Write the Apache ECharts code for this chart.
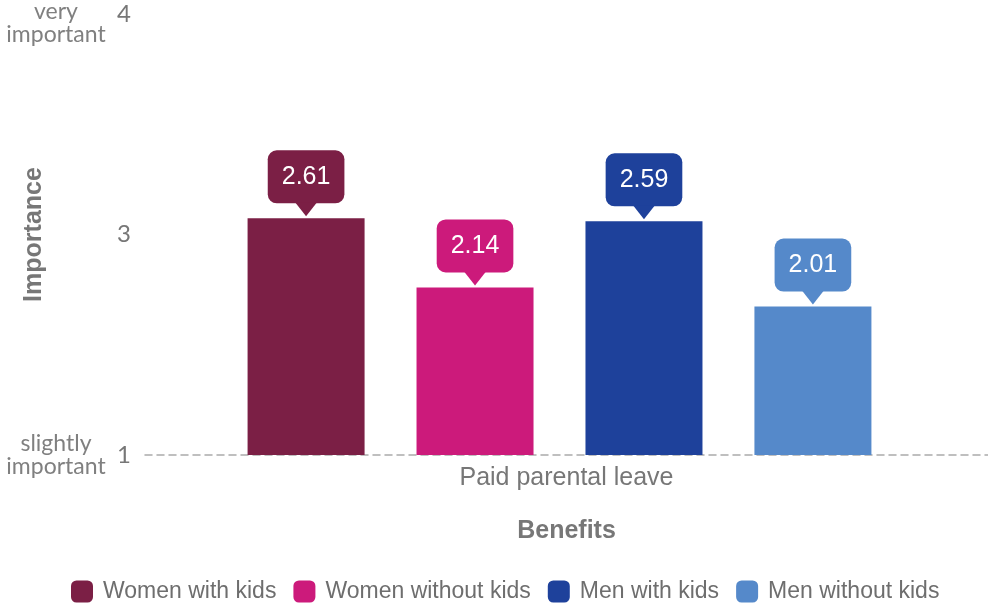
<!DOCTYPE html>
<html>
<head>
<meta charset="utf-8">
<script src="https://cdn.jsdelivr.net/npm/echarts@6/dist/echarts.min.js"></script>
<style>html,body{margin:0;padding:0;background:#fff;}#c{width:988px;height:605px;}</style>
</head>
<body>
<div id="c"></div>
<script>
const categories = ['Paid parental leave'];
const seriesNames = ['Women with kids', 'Women without kids', 'Men with kids', 'Men without kids'];
const womenWithKids = [2.61];
const womenWithoutKids = [2.14];
const menWithKids = [2.59];
const menWithoutKids = [2.01];
const seriesValues = [womenWithKids, womenWithoutKids, menWithKids, menWithoutKids];
const colors = ['#7B1F45', '#CC1A7B', '#1E419B', '#5589CA'];
const yTickValues = [1, 2.5, 4];
const yTickLabels = ['1', '3', '4'];
const yWordValues = [1, 4];
const yWordLabels = [['slightly', 'important'], ['very', 'important']];

const FONT = "'Liberation Sans', Arial, sans-serif";
const GRAY = '#777777';

const chart = echarts.init(document.getElementById('c'), null, {renderer: 'canvas'});

const barSeries = seriesNames.map((name, i) => ({
  name: name,
  type: 'bar',
  xAxisIndex: 1,
  yAxisIndex: 2,
  data: seriesValues[i],
  barWidth: 117,
  barGap: '44.4%',
  itemStyle: {color: colors[i]},
  emphasis: {disabled: true},
  z: 2,
  label: {
    show: true,
    position: 'top',
    distance: 15,
    formatter: p => p.value.toFixed(2),
    fontFamily: FONT, fontSize: 25, lineHeight: 25, color: '#ffffff',
    backgroundColor: colors[i], borderRadius: 9, padding: [14, 14, 14, 14]
  }
}));

const pointerSeries = seriesNames.map((name, i) => ({
  name: name + ' pointer',
  type: 'pictorialBar',
  xAxisIndex: 1,
  yAxisIndex: 2,
  data: seriesValues[i],
  barWidth: 117,
  barGap: '44.4%',
  symbol: 'triangle',
  symbolRotate: 180,
  symbolSize: [22, 14],
  symbolPosition: 'end',
  symbolOffset: [0, -16],
  itemStyle: {color: colors[i]},
  emphasis: {disabled: true},
  silent: true,
  z: 3
}));

chart.setOption({
  animation: false,
  backgroundColor: '#ffffff',
  grid: [
    {left: 145, right: 0, top: 14, bottom: 150, containLabel: false, outerBoundsMode: 'none'},
    {left: 131, right: 0, top: 14, bottom: 150, containLabel: false, outerBoundsMode: 'none'}
  ],
  legend: {
    data: seriesNames,
    left: 71,
    top: 580,
    padding: 0,
    itemWidth: 22,
    itemHeight: 22,
    itemGap: 17,
    icon: 'roundRect',
    textStyle: {fontFamily: FONT, fontSize: 23, color: '#6e6e6e', padding: [0, 0, 0, 5]}
  },
  xAxis: [
    {
      type: 'category', gridIndex: 0, data: categories,
      axisLine: {show: true, lineStyle: {color: '#aaaaaa', width: 1.5, type: [7, 5]}},
      axisTick: {show: false},
      axisLabel: {fontFamily: FONT, fontSize: 25, color: GRAY, margin: 11},
      name: 'Benefits', nameLocation: 'middle', nameGap: 64,
      nameTextStyle: {fontFamily: FONT, fontSize: 25, fontWeight: 'bold', color: GRAY}
    },
    {
      type: 'category', gridIndex: 1, data: categories,
      show: false
    }
  ],
  yAxis: [
    {
      type: 'value', gridIndex: 0, min: 1, max: 4, interval: 0.5,
      axisLine: {show: false}, axisTick: {show: false}, splitLine: {show: false},
      axisLabel: {
        fontFamily: 'Lato, sans-serif', fontSize: 24, color: GRAY, margin: 14,
        formatter: v => { const k = yTickValues.indexOf(v); return k >= 0 ? yTickLabels[k] : ''; }
      },
      name: 'Importance', nameLocation: 'middle', nameGap: 98, nameRotate: 90,
      nameTextStyle: {fontFamily: FONT, fontSize: 25, fontWeight: 'bold', color: GRAY}
    },
    {
      type: 'value', gridIndex: 0, min: 1, max: 4, interval: 0.5, position: 'left',
      axisLine: {show: false}, axisTick: {show: false}, splitLine: {show: false},
      axisLabel: {
        margin: 89, align: 'center',
        formatter: v => {
          const k = yWordValues.indexOf(v);
          if (k < 0) return '';
          const w = yWordLabels[k];
          const body = '{w|' + w[0] + '}\n{w|' + w[1] + '}';
          return v === 4 ? '{pad|\u00a0}\n' + body : body;
        },
        rich: {
          w: {fontFamily: 'Lato, sans-serif', fontSize: 23, lineHeight: 23, color: '#808080'},
          pad: {fontSize: 1, height: 19, lineHeight: 19}
        }
      }
    },
    {
      type: 'value', gridIndex: 1, min: 1, max: 4, show: false
    }
  ],
  series: barSeries.concat(pointerSeries)
});
</script>
</body>
</html>
